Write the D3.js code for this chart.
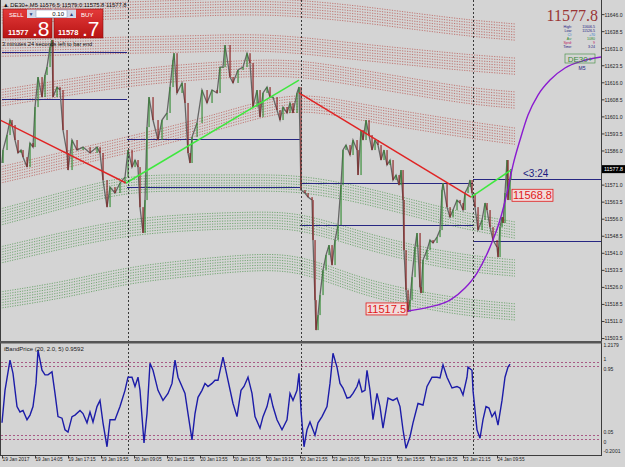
<!DOCTYPE html>
<html>
<head>
<meta charset="utf-8">
<script src="https://cdn.jsdelivr.net/npm/d3@7"></script>
<style>
  body { margin: 0; background: #d4d4d4; }
  svg { display: block; font-family: "Liberation Sans", Arial, sans-serif; }
</style>
</head>
<body>
<div id="chart"></div>
<script>
// ---- data ----
var priceTicks = [11646.0, 11638.5, 11631.0, 11623.5, 11616.0, 11608.5, 11601.0, 11593.5, 11586.0, 11578.5,
                  11571.0, 11563.5, 11556.0, 11548.5, 11541.0, 11533.5, 11526.0, 11518.5, 11511.0, 11503.5];
var timeBars = [2, 35, 68, 101, 134, 167, 200, 233, 266, 300, 332, 364, 397, 430, 463, 497];
var timeLabels = ["19 Jan 2017", "19 Jan 14:05", "19 Jan 17:15", "19 Jan 19:55", "20 Jan 09:05", "20 Jan 11:55",
                  "20 Jan 13:55", "20 Jan 16:35", "20 Jan 19:15", "20 Jan 21:55", "23 Jan 10:05", "23 Jan 13:15",
                  "23 Jan 15:55", "23 Jan 18:35", "23 Jan 21:15", "24 Jan 09:55"];
var daySeparators = [128, 301, 473];

// price path (bar index, price)
var quoteBar = [2,3,7,10,12,15,18,21,23,27,30,33,35,38,42,45,47,50,52,53,57,60,63,67,68,72,77,83,90,97,100,103,107,110,115,120,125,
  128,132,135,138,140,143,145,147,149,153,158,162,167,170,173,174,177,182,185,188,190,192,197,202,207,212,217,220,223,225,230,233,238,
  243,247,250,253,257,260,263,267,270,273,277,280,283,287,290,293,297,299,
  301,305,308,312,313,315,316,318,320,323,326,329,332,335,338,341,343,346,350,353,357,358,361,363,366,369,372,375,378,381,384,387,390,
  393,396,399,401,403,404,406,408,410,412,415,417,420,421,423,427,430,433,437,440,442,443,447,450,453,457,460,463,465,468,470,472,475,
  478,482,485,487,490,493,497,498,500,502,503,505,507,508,510,511];
var quotePrice = [11580.5,11586.2,11592.8,11599.4,11597.2,11590.6,11584.9,11586.2,11583.1,11578.7,11589.3,11587.5,11605.1,11618.3,
  11609.5,11619.2,11622.7,11631.5,11634.6,11609.5,11613.9,11612.6,11595.0,11584.9,11577.4,11590.6,11586.2,11587.5,11584.9,11587.5,
  11584.9,11573.0,11561.1,11569.9,11567.3,11571.7,11574.3,
  11586.2,11578.7,11581.8,11578.7,11561.1,11549.7,11564.2,11596.3,11609.5,11599.4,11590.6,11599.4,11602.5,11613.9,11625.8,11628.8,
  11611.3,11615.7,11606.9,11584.9,11580.5,11591.9,11598.1,11612.6,11606.9,11612.6,11611.3,11622.7,11622.7,11632.4,11618.3,11615.7,
  11621.4,11622.7,11628.8,11624.5,11605.1,11612.6,11600.7,11611.3,11613.9,11609.5,11609.5,11603.8,11599.4,11605.1,11602.5,11606.9,
  11602.5,11611.3,11613.9,
  11568.6,11567.3,11565.5,11564.2,11546.6,11520.2,11507.0,11513.6,11522.4,11533.4,11540.0,11544.4,11535.6,11546.6,11553.2,11570.8,
  11586.2,11588.4,11584.0,11590.6,11586.2,11575.2,11595.0,11590.6,11599.4,11592.8,11586.2,11590.6,11588.4,11581.8,11586.2,11579.6,
  11581.8,11573.0,11575.2,11570.8,11577.4,11564.2,11542.2,11524.6,11515.0,11520.2,11530.3,11543.5,11549.7,11525.9,11523.3,11537.8,
  11542.2,11546.6,11545.3,11547.9,11551.0,11568.6,11571.7,11561.1,11556.7,11559.8,11564.2,11562.9,11559.8,11567.3,11569.9,11573.0,
  11567.3,11561.1,11551.0,11555.4,11562.9,11559.8,11552.3,11546.6,11543.5,11539.1,11552.3,11556.7,11554.1,11567.3,11581.8,11564.2,
  11573.0,11577.8];

// dotted envelope bands: centre price of each band at the knot bars
var bandKnots = [0, 64, 127, 190, 250, 300, 360, 420, 470, 515];
var redBands = [
  [11645.6, 11646.4, 11647.8, 11648.6, 11649.5, 11648.6, 11646.0, 11642.5, 11639.8, 11638.1],
  [11631.0, 11631.5, 11632.4, 11632.8, 11633.7, 11632.4, 11629.3, 11626.7, 11624.5, 11623.1],
  [11609.1, 11613.5, 11617.9, 11620.5, 11622.3, 11622.3, 11617.9, 11613.5, 11609.9, 11608.2],
  [11575.2, 11581.8, 11588.4, 11595.0, 11602.9, 11608.2, 11602.9, 11598.5, 11595.0, 11592.3]
];
var greenBands = [
  [11556.7, 11564.2, 11571.7, 11571.7, 11571.7, 11571.7, 11566.8, 11559.8, 11554.5, 11551.0],
  [11540.0, 11546.6, 11552.3, 11554.5, 11555.4, 11555.4, 11546.6, 11540.0, 11536.1, 11534.3],
  [11520.2, 11524.6, 11531.2, 11534.3, 11536.9, 11536.9, 11526.0, 11520.2, 11516.7, 11515.0]
];

// previous-session high/low levels [fromBar, toBar, price]
var levels = [[2, 127, 11629.3], [2, 127, 11608.6], [127, 300, 11591.0], [127, 300, 11569.9],
              [300, 473, 11571.7], [300, 473, 11553.2], [473, 601, 11573.4], [473, 601, 11546.2]];
// trend lines [bar1, price1, bar2, price2]
var redTrends = [[0, 11599.4, 126, 11571.7], [299, 11611.3, 471, 11565.5]];
var greenTrends = [[126, 11571.7, 299, 11617.0], [471, 11565.5, 511, 11577.4]];

// purple projection curve
var curveBar = [408, 430, 450, 465, 477, 490, 500, 507, 513, 520, 528, 538, 550, 565, 582, 601];
var curvePrice = [11515.4, 11517.2, 11520.2, 11525.5, 11532.1, 11543.5, 11555.4, 11567.3, 11579.6, 11590.6, 11601.6,
                  11610.4, 11617.0, 11622.3, 11625.3, 11627.1];

// iBandPrice oscillator (bar index, value)
var bpBar = [2, 5, 10, 13, 17, 20, 23, 27, 30, 33, 36, 38, 42, 45, 48, 52, 55, 58, 62, 65,
  68, 72, 75, 80, 83, 87, 90, 93, 97, 100, 103, 107, 110, 115, 120, 125, 128, 132, 135, 138,
  140, 144, 147, 150, 153, 158, 163, 168, 172, 175, 178, 182, 185, 188, 192, 195, 198, 202, 205, 208,
  212, 215, 218, 223, 228, 233, 237, 241, 244, 248, 252, 255, 260, 263, 267, 270, 273, 277, 282, 287,
  290, 293, 297, 299, 301, 304, 307, 310, 315, 318, 322, 327, 330, 333, 337, 340, 343, 347, 350, 353,
  357, 359, 362, 365, 367, 370, 373, 377, 380, 383, 388, 393, 397, 400, 403, 406, 410, 413, 418, 423,
  427, 432, 437, 440, 443, 447, 452, 457, 460, 463, 467, 468, 472, 473, 477, 480, 483, 486, 489, 492,
  495, 498, 502, 505, 508, 510];
var bpVal = [0.21, 0.63, 1.02, 0.85, 0.42, 0.35, 0.37, 0.25, 0.31, 0.42, 0.72, 1.15, 0.89, 0.83, 0.83, 0.87, 0.59, 0.29, 0.27, 0.12,
  0.09, 0.29, 0.31, 0.37, 0.33, 0.21, 0.35, 0.22, 0.42, 0.50, 0.21, -0.10, 0.25, 0.25, 0.42, 0.63, 0.80, 0.80, 0.68, 0.80,
  0.63, -0.05, 0.33, 0.98, 0.89, 0.63, 0.50, 0.59, 0.72, 1.02, 0.80, 0.68, 0.59, 0.33, -0.01, 0.33, 0.54, 0.63, 0.72, 0.68,
  0.72, 0.76, 0.76, 1.06, 0.76, 0.46, 0.29, 0.63, 0.68, 0.80, 0.59, 0.29, 0.14, 0.29, 0.42, 0.59, 0.42, 0.25, 0.12, 0.25,
  0.59, 0.50, 0.63, 0.85, 0.37, -0.10, 0.12, 0.22, 0.05, 0.21, 0.29, 0.42, 0.72, 1.11, 0.93, 0.72, 0.66, 0.53, 0.54, 0.59,
  0.68, 0.76, 0.61, 0.63, 0.89, 0.63, 0.25, 0.59, 0.42, 0.14, 0.53, 0.50, 0.53, 0.42, 0.12, -0.12, 0.03, 0.21, 0.46, 0.44,
  0.68, 0.80, 0.80, 0.79, 0.96, 0.80, 0.66, 0.68, 0.66, 0.57, 0.80, 0.93, 0.89, 0.63, 0.12, 0.01, 0.25, 0.42, 0.40, 0.29,
  0.35, 0.18, 0.50, 0.80, 0.93, 0.97];
var bpLevels = [1, 0.95, 0.05, 0];
var bpAxisTicks = [1.2179, 1, 0.95, 0.05, 0, -0.2001];

var infoRows = [["High:", "11606.5", "#1a1a80"], ["Low:", "11526.5", "#1a1a80"], ["Cl:", "+70", "#2a7ad0"],
                ["Av:", "1080", "#2a8a2a"], ["Sprd:", "9", "#c02060"], ["Time:", "3:24", "#1a1a80"]];

// ---- layout ----
var width = 625, height = 467;
var plotRight = 601, mainBottom = 341, indTop = 343, indBottom = 455;

var svg = d3.select("#chart").append("svg")
    .attr("width", width)
    .attr("height", height);

svg.append("rect").attr("width", width).attr("height", height).attr("fill", "#d4d4d4");

var x = d3.scaleLinear().domain([0, 601]).range([0, plotRight]);
var y = d3.scaleLinear().domain([11502.2, 11652.2]).range([mainBottom, 0]);
var yi = d3.scaleLinear().domain([-0.2001, 1.2179]).range([454.5, 344.9]);

var defs = svg.append("defs");
defs.append("clipPath").attr("id", "clipMain").append("rect")
    .attr("x", 1).attr("y", 0).attr("width", plotRight - 1).attr("height", mainBottom);
defs.append("clipPath").attr("id", "clipInd").append("rect")
    .attr("x", 1).attr("y", indTop).attr("width", plotRight - 1).attr("height", indBottom - indTop);

var main = svg.append("g").attr("clip-path", "url(#clipMain)");

// bands: each one a ribbon of dotted lines
var bandLine = d3.line().curve(d3.curveBasis);
function drawBands(list, color) {
  list.forEach(function(band) {
    for (var k = 0; k < 7; k++) {
      var pts = bandKnots.map(function(b, i) { return [x(b), y(band[i]) + (k - 3) * 2.7]; });
      main.append("path")
        .attr("d", bandLine(pts))
        .attr("fill", "none")
        .attr("stroke", color)
        .attr("stroke-width", 0.9)
        .attr("stroke-dasharray", "1.2,1.3");
    }
  });
}
drawBands(redBands, "#bd6b66");
drawBands(greenBands, "#66a066");

// day separators
svg.append("g").selectAll("line").data(daySeparators).join("line")
    .attr("x1", function(d) { return x(d) + 0.5; })
    .attr("x2", function(d) { return x(d) + 0.5; })
    .attr("y1", 0).attr("y2", indBottom)
    .attr("stroke", "#3a3a3a")
    .attr("stroke-width", 1)
    .attr("stroke-dasharray", "2,2");

// session levels
main.selectAll(".lvl").data(levels).join("line")
    .attr("x1", function(d) { return x(d[0]); })
    .attr("x2", function(d) { return x(d[1]); })
    .attr("y1", function(d) { return Math.round(y(d[2])) + 0.5; })
    .attr("y2", function(d) { return Math.round(y(d[2])) + 0.5; })
    .attr("stroke", "#262682")
    .attr("stroke-width", 1);

// price: thin candles between consecutive quotes
var quotes = quoteBar.map(function(b, i) { return {bar: b, price: quotePrice[i]}; });
main.append("path")
    .datum(quotes)
    .attr("d", d3.line().x(function(d) { return x(d.bar); }).y(function(d) { return y(d.price); }))
    .attr("fill", "none")
    .attr("stroke", "#666666")
    .attr("stroke-width", 1.3);
main.selectAll(".bar").data(quotes.slice(1)).join("rect")
    .attr("x", function(d) { return x(d.bar) - 0.6; })
    .attr("width", 1.3)
    .attr("y", function(d, i) { return y(Math.max(d.price, quotes[i].price)); })
    .attr("height", function(d, i) { return Math.max(1, Math.abs(y(d.price) - y(quotes[i].price))); })
    .attr("fill", function(d, i) { return d.price >= quotes[i].price ? "#2f8a2f" : "#8a1c1c"; })
    .attr("opacity", 0.85);

// trend lines
function trend(list, color) {
  main.selectAll(null).data(list).join("line")
    .attr("x1", function(d) { return x(d[0]); })
    .attr("y1", function(d) { return y(d[1]); })
    .attr("x2", function(d) { return x(d[2]); })
    .attr("y2", function(d) { return y(d[3]); })
    .attr("stroke", color)
    .attr("stroke-width", 1.5);
}
trend(redTrends, "#e02424");
trend(greenTrends, "#3ee83e");

// purple curve
main.append("path")
    .datum(curveBar.map(function(b, i) { return [x(b), y(curvePrice[i])]; }))
    .attr("d", d3.line().curve(d3.curveMonotoneX))
    .attr("fill", "none")
    .attr("stroke", "#8a1ad0")
    .attr("stroke-width", 1.4);

// price labels on chart
function priceBox(bar, price, txt, anchorLeft) {
  var g = main.append("g");
  var t = g.append("text")
    .attr("x", x(bar)).attr("y", y(price) + 4)
    .attr("font-size", 11).attr("fill", "#e01818")
    .attr("text-anchor", anchorLeft ? "start" : "end")
    .text(txt);
  var bb = t.node().getBBox();
  g.insert("rect", "text")
    .attr("x", bb.x - 1).attr("y", bb.y)
    .attr("width", bb.width + 2).attr("height", bb.height)
    .attr("fill", "#f2dcdc").attr("stroke", "#e01818").attr("stroke-width", 0.8);
}
priceBox(406, 11516.3, "11517.5", false);
priceBox(513, 11566.3, "11568.8", true);

main.append("text")
    .attr("x", x(523)).attr("y", y(11573.6) - 2)
    .attr("font-size", 10).attr("fill", "#1a1a80")
    .text("<3:24");

// ---- indicator panel ----
var ind = svg.append("g").attr("clip-path", "url(#clipInd)");
ind.selectAll("line").data(bpLevels).join("line")
    .attr("x1", 1).attr("x2", plotRight)
    .attr("y1", function(d) { return Math.round(yi(d)) + 0.5; })
    .attr("y2", function(d) { return Math.round(yi(d)) + 0.5; })
    .attr("stroke", "#a85a85")
    .attr("stroke-width", 1)
    .attr("stroke-dasharray", "2,2");
ind.append("path")
    .datum(bpBar.map(function(b, i) { return [x(b), yi(bpVal[i])]; }))
    .attr("d", d3.line())
    .attr("fill", "none")
    .attr("stroke", "#1c1ca8")
    .attr("stroke-width", 1.4);

svg.append("text").attr("x", 4).attr("y", 351)
    .attr("font-size", 6).attr("fill", "#202020")
    .text("iBandPrice (20, 2.0, 5) 0.9592");

// ---- frames ----
svg.append("line").attr("x1", plotRight + 0.5).attr("x2", plotRight + 0.5).attr("y1", 0).attr("y2", indBottom)
    .attr("stroke", "#3c3c3c").attr("stroke-width", 1);
svg.append("line").attr("x1", 0.5).attr("x2", 0.5).attr("y1", 0).attr("y2", indBottom)
    .attr("stroke", "#3c3c3c").attr("stroke-width", 1);
svg.append("rect").attr("x", 0).attr("y", mainBottom).attr("width", plotRight + 1).attr("height", 2.5)
    .attr("fill", "#555555");

// axes
var yAxis = svg.append("g")
    .attr("transform", "translate(" + (plotRight + 0.5) + ",0)")
    .call(d3.axisRight(y).tickValues(priceTicks).tickSize(3).tickFormat(d3.format(".1f")));
var yiAxis = svg.append("g")
    .attr("transform", "translate(" + (plotRight + 0.5) + ",0)")
    .call(d3.axisRight(yi).tickValues(bpAxisTicks).tickSize(0).tickFormat(function(d) { return String(d); }));
[yAxis, yiAxis].forEach(function(a) {
  a.select(".domain").remove();
  a.selectAll("line").attr("stroke", "#3c3c3c");
  a.selectAll("text").attr("font-size", 6).attr("fill", "#222").attr("x", 3);
});
yAxis.selectAll("text").attr("textLength", 18).attr("lengthAdjust", "spacingAndGlyphs");
yiAxis.selectAll("text").attr("x", 2).attr("font-size", 5);
yiAxis.selectAll("text").filter(function(d) { return d === 1 || d === 0.05; }).attr("dy", "-0.3em");
yiAxis.selectAll("text").filter(function(d) { return d === 0.95 || d === 0; }).attr("dy", "0.9em");
yiAxis.selectAll("text").filter(function(d) { return d === -0.2001; }).attr("dy", "-0.4em");

var xAxis = svg.append("g")
    .attr("transform", "translate(0," + (indBottom + 0.5) + ")")
    .call(d3.axisBottom(x).tickValues(timeBars).tickSize(3).tickFormat(function(d, i) { return timeLabels[i]; }));
xAxis.select(".domain").attr("stroke", "#3c3c3c").attr("d", "M0,0H" + (plotRight + 1));
xAxis.selectAll("line").attr("stroke", "#3c3c3c");
xAxis.selectAll("text").attr("font-size", 5.6).attr("fill", "#222").attr("text-anchor", "start")
    .attr("y", 2).attr("dy", "0.71em")
    .attr("textLength", 27).attr("lengthAdjust", "spacingAndGlyphs");

// current price box on the axis
var cur = 11577.8;
svg.append("rect").attr("x", plotRight + 1).attr("y", y(cur) - 4).attr("width", 23).attr("height", 8).attr("fill", "#000");
svg.append("text").attr("x", plotRight + 3).attr("y", y(cur) + 2.3)
    .attr("font-size", 6).attr("fill", "#fff").attr("textLength", 19).attr("lengthAdjust", "spacingAndGlyphs")
    .text(d3.format(".1f")(cur));

// ---- header + one-click trading ----
svg.append("text").attr("x", 3).attr("y", 7).attr("font-size", 5.8).attr("fill", "#111")
    .text("\u25B2 DE30+,M5  11576.5 11579.0 11575.8 11577.8");

var grad = defs.append("linearGradient").attr("id", "btn").attr("x1", 0).attr("y1", 0).attr("x2", 0).attr("y2", 1);
grad.append("stop").attr("offset", "0%").attr("stop-color", "#e43a3a");
grad.append("stop").attr("offset", "100%").attr("stop-color", "#b81414");

var tp = svg.append("g");
tp.append("rect").attr("x", 3).attr("y", 9).attr("width", 49).attr("height", 29).attr("fill", "url(#btn)").attr("stroke", "#8a1010").attr("stroke-width", 0.6);
tp.append("rect").attr("x", 54).attr("y", 9).attr("width", 49).attr("height", 29).attr("fill", "url(#btn)").attr("stroke", "#8a1010").attr("stroke-width", 0.6);
tp.append("rect").attr("x", 27).attr("y", 9.5).attr("width", 49).attr("height", 8.5).attr("fill", "#d0d8e8");
tp.append("rect").attr("x", 36).attr("y", 10).attr("width", 31).attr("height", 7.5).attr("fill", "#ffffff").attr("stroke", "#8090b0").attr("stroke-width", 0.5);
tp.append("text").attr("x", 31).attr("y", 16).attr("font-size", 5).attr("fill", "#30407a").attr("text-anchor", "middle").text("\u25BC");
tp.append("text").attr("x", 71.5).attr("y", 16).attr("font-size", 5).attr("fill", "#30407a").attr("text-anchor", "middle").text("\u25B2");
tp.append("text").attr("x", 64).attr("y", 16).attr("font-size", 6).attr("fill", "#111").attr("text-anchor", "end").text("0.10");
tp.append("text").attr("x", 9).attr("y", 16.5).attr("font-size", 6).attr("fill", "#fff").text("SELL");
tp.append("text").attr("x", 81).attr("y", 16.5).attr("font-size", 6).attr("fill", "#fff").text("BUY");
tp.append("text").attr("x", 8).attr("y", 35).attr("font-size", 7.5).attr("font-weight", "bold").attr("fill", "#fff").text("11577");
tp.append("text").attr("x", 32).attr("y", 36).attr("font-size", 21).attr("fill", "#fff").text(".8");
tp.append("text").attr("x", 58).attr("y", 35).attr("font-size", 7.5).attr("font-weight", "bold").attr("fill", "#fff").text("11578");
tp.append("text").attr("x", 82).attr("y", 36).attr("font-size", 21).attr("fill", "#fff").text(".7");
svg.append("text").attr("x", 2).attr("y", 46).attr("font-size", 5.6).attr("fill", "#111")
    .text("3 minutes 24 seconds left to bar end");

// ---- info box top right ----
svg.append("text").attr("x", 598).attr("y", 21).attr("font-family", "'Liberation Serif', 'Times New Roman', serif")
    .attr("font-size", 16).attr("fill", "#9a3434").attr("text-anchor", "end").text("11577.8");
var info = svg.append("g");
infoRows.forEach(function(r, i) {
  info.append("text").attr("x", 572).attr("y", 28 + i * 3.9).attr("font-size", 3.6).attr("fill", r[2])
    .attr("text-anchor", "end").text(r[0]);
  info.append("text").attr("x", 595).attr("y", 28 + i * 3.9).attr("font-size", 3.6).attr("fill", r[2])
    .attr("text-anchor", "end").text(r[1]);
});
info.append("rect").attr("x", 565).attr("y", 54).attr("width", 30).attr("height", 9)
    .attr("fill", "none").attr("stroke", "#3a8a3a").attr("stroke-width", 0.6);
info.append("text").attr("x", 580).attr("y", 61.5).attr("font-size", 8).attr("fill", "#3a8a3a")
    .attr("text-anchor", "middle").text("DE30+");
info.append("text").attr("x", 582).attr("y", 70).attr("font-size", 5).attr("fill", "#1a1a80")
    .attr("text-anchor", "middle").text("M5");
</script>
</body>
</html>
